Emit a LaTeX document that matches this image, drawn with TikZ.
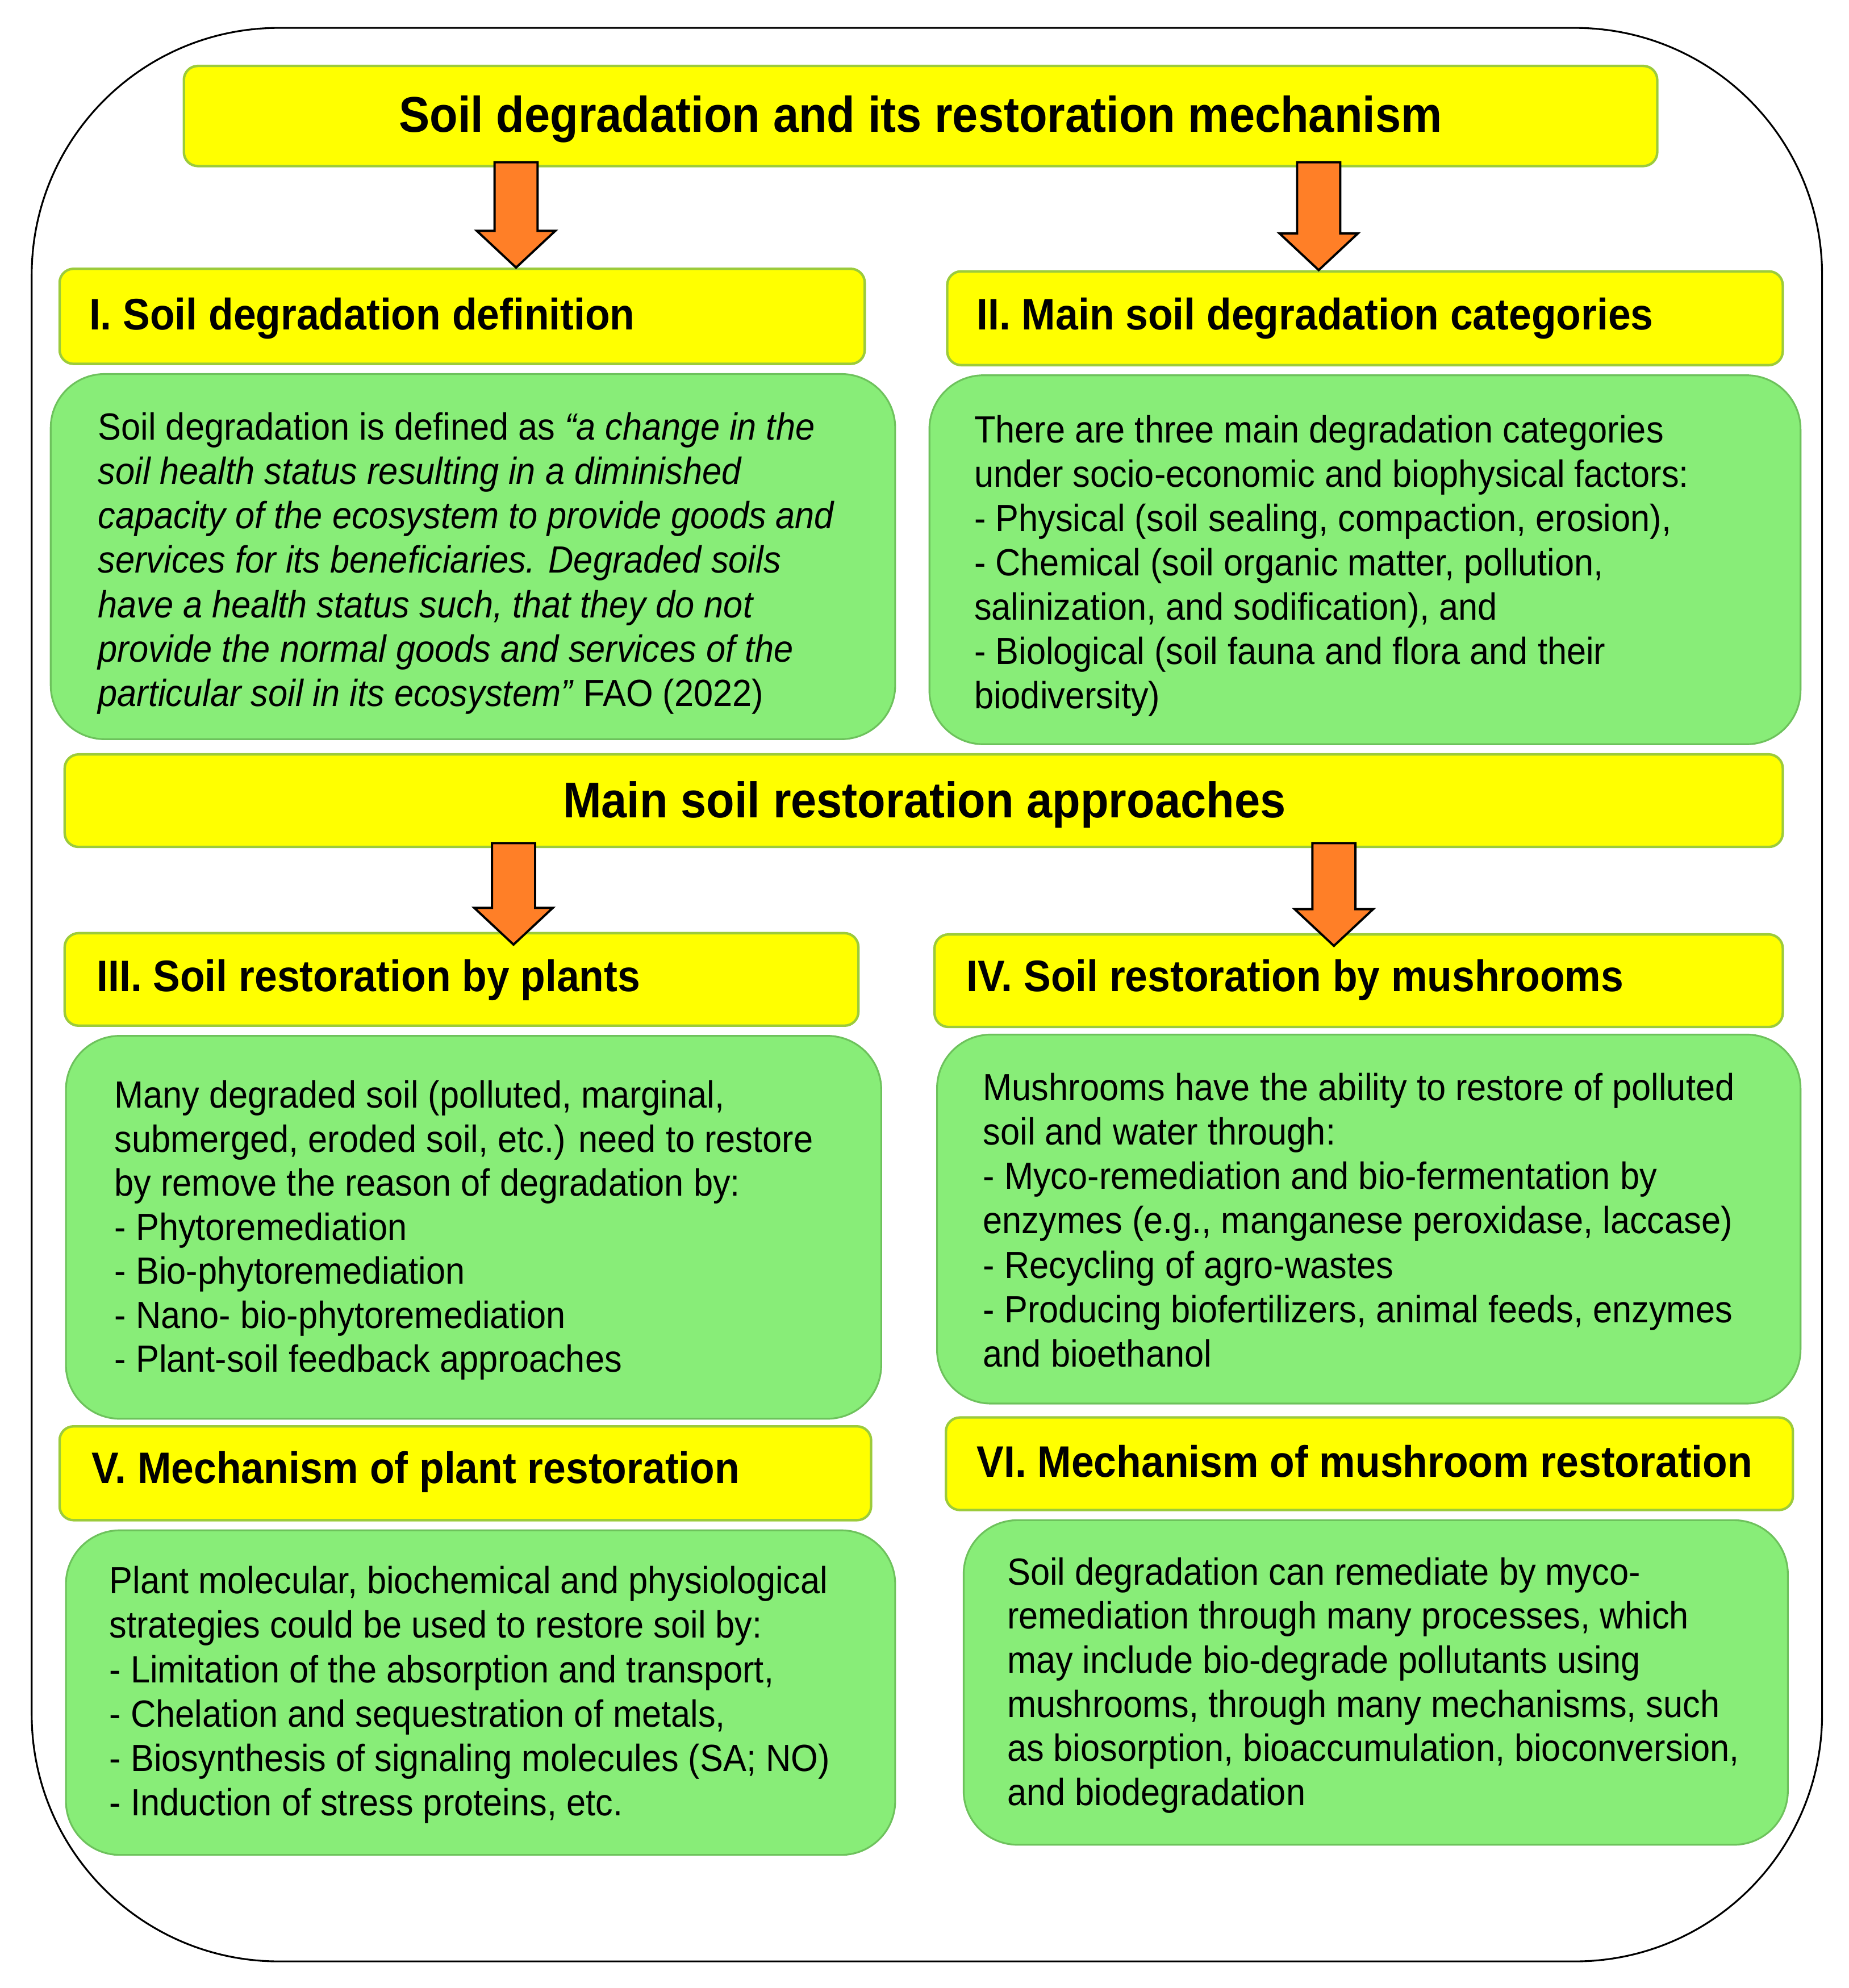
\documentclass[tikz,border=0pt]{standalone}
\usepackage{fontspec}
\setmainfont{Liberation Sans}[FakeStretch=0.92]
\usepackage{xcolor}
\usepackage{tikz}
\usetikzlibrary{positioning, calc, fit}
\definecolor{soilyellow}{HTML}{FFFF00}
\definecolor{headborder}{HTML}{9CCB3B}
\definecolor{soilgreen}{HTML}{88ED78}
\definecolor{greenborder}{HTML}{6DC25C}
\definecolor{arroworange}{HTML}{FF7F27}

\begin{document}
\begin{tikzpicture}[
    x=0.02cm, y=-0.02cm,
    frame/.style={draw=black, line width=0.8pt, rounded corners=3.9cm},
    headbox/.style={rectangle, draw=headborder, line width=1.1pt, fill=soilyellow, rounded corners=0.22cm, inner sep=0pt},
    textbox/.style={rectangle, draw=greenborder, line width=0.8pt, fill=soilgreen, rounded corners=0.85cm, inner sep=0pt},
    titletxt/.style={font=\fontsize{22.5}{27}\selectfont\bfseries, anchor=base, inner sep=0pt},
    headtxt/.style={font=\fontsize{19.8}{24}\selectfont\bfseries, anchor=base west, inner sep=0pt},
    bodytxt/.style={font=\fontsize{17}{20}\selectfont, anchor=base west, inner sep=0pt},
    blockarrow/.style={draw=black, line width=1pt, fill=arroworange, line join=miter}
]
\useasboundingbox (0,0) rectangle (1458,1568);

% Outer frame
\draw[frame] (25,22) rectangle (1437,1547);

% Main title
\node[headbox, fit={(145,52) (1307,131)}] (title) {};
\node[titletxt] (titletext) at (726,104) {Soil degradation and its restoration mechanism};

% I. Definition
\node[headbox, fit={(47,212) (682,287)}] (defhead) {};
\node[headtxt] (defheadtext) at (70,260) {I. Soil degradation definition};
\node[textbox, fit={(40,295) (706,583)}] (defbox) {};
\node[bodytxt] (deftxt0) at (77,347) {Soil degradation is defined as \textit{“a change in the}};
\foreach \ln [count=\i] in {
    {soil health status resulting in a diminished},
    {capacity of the ecosystem to provide goods and},
    {services for its beneficiaries. Degraded soils},
    {have a health status such, that they do not},
    {provide the normal goods and services of the}}
  \node[bodytxt] (deftxt\i) at (77,347+35*\i) {\textit{\ln}};
\node[bodytxt] (deftxt6) at (77,557) {\textit{particular soil in its ecosystem”} FAO (2022)};

% II. Categories
\node[headbox, fit={(747,214) (1406,288)}] (cathead) {};
\node[headtxt] (catheadtext) at (770,260) {II. Main soil degradation categories};
\node[textbox, fit={(733,296) (1420,587)}] (catbox) {};
\foreach \ln [count=\i from 0] in {
    {There are three main degradation categories},
    {under socio-economic and biophysical factors:},
    {- Physical (soil sealing, compaction, erosion),},
    {- Chemical (soil organic matter, pollution,},
    {salinization, and sodification), and},
    {- Biological (soil fauna and flora and their},
    {biodiversity)}}
  \node[bodytxt] (cattxt\i) at (768,349+35*\i) {\ln};

% Restoration approaches
\node[headbox, fit={(51,595) (1406,668)}] (approach) {};
\node[titletxt] (approachtext) at (729,645) {Main soil restoration approaches};

% III. Plants
\node[headbox, fit={(51,736) (677,809)}] (planthead) {};
\node[headtxt] (plantheadtext) at (76,782) {III. Soil restoration by plants};
\node[textbox, fit={(52,817) (695,1119)}] (plantbox) {};
\foreach \ln [count=\i from 0] in {
    {Many degraded soil (polluted, marginal,},
    {submerged, eroded soil, etc.) need to restore},
    {by remove the reason of degradation by:},
    {- Phytoremediation},
    {- Bio-phytoremediation},
    {- Nano- bio-phytoremediation},
    {- Plant-soil feedback approaches}}
  \node[bodytxt] (planttxt\i) at (90,874+34.7*\i) {\ln};

% IV. Mushrooms
\node[headbox, fit={(737,737) (1406,810)}] (mushhead) {};
\node[headtxt] (mushheadtext) at (762,782) {IV. Soil restoration by mushrooms};
\node[textbox, fit={(739,816) (1420,1107)}] (mushbox) {};
\foreach \ln [count=\i from 0] in {
    {Mushrooms have the ability to restore of polluted},
    {soil and water through:},
    {- Myco-remediation and bio-fermentation by},
    {enzymes (e.g., manganese peroxidase, laccase)},
    {- Recycling of agro-wastes},
    {- Producing biofertilizers, animal feeds, enzymes},
    {and bioethanol}}
  \node[bodytxt] (mushtxt\i) at (775,868+35*\i) {\ln};

% V. Plant mechanism
\node[headbox, fit={(47,1125) (687,1199)}] (plantmechhead) {};
\node[headtxt] (plantmechheadtext) at (72,1170) {V. Mechanism of plant restoration};
\node[textbox, fit={(52,1207) (706,1463)}] (plantmechbox) {};
\foreach \ln [count=\i from 0] in {
    {Plant molecular, biochemical and physiological},
    {strategies could be used to restore soil by:},
    {- Limitation of the absorption and transport,},
    {- Chelation and sequestration of metals,},
    {- Biosynthesis of signaling molecules (SA; NO)},
    {- Induction of stress proteins, etc.}}
  \node[bodytxt] (plantmechtxt\i) at (86,1257+35*\i) {\ln};

% VI. Mushroom mechanism
\node[headbox, fit={(746,1118) (1414,1191)}] (mushmechhead) {};
\node[headtxt] (mushmechheadtext) at (770,1165) {VI. Mechanism of mushroom restoration};
\node[textbox, fit={(760,1199) (1410,1455)}] (mushmechbox) {};
\foreach \ln [count=\i from 0] in {
    {Soil degradation can remediate by myco-},
    {remediation through many processes, which},
    {may include bio-degrade pollutants using},
    {mushrooms, through many mechanisms, such},
    {as biosorption, bioaccumulation, bioconversion,},
    {and biodegradation}}
  \node[bodytxt] (mushmechtxt\i) at (794,1250+34.8*\i) {\ln};

% Block arrows (tip may run into the box below)
\foreach \ax/\src/\dst/\dip in {407/title/defhead/0, 1040/title/cathead/0, 405/approach/planthead/10, 1052/approach/mushhead/10} {
  \coordinate (axis) at (\ax,0);
  \coordinate (top) at (\src.south -| axis);
  \coordinate (tip) at ($(\dst.north -| axis)+(0,\dip)$);
  \draw[blockarrow] ($(top)+(-17,-4)$) -- ($(top)+(17,-4)$) -- ($(tip)+(17,-29)$)
    -- ($(tip)+(31,-29)$) -- (tip) -- ($(tip)+(-31,-29)$) -- ($(tip)+(-17,-29)$) -- cycle;
}

\end{tikzpicture}
\end{document}
